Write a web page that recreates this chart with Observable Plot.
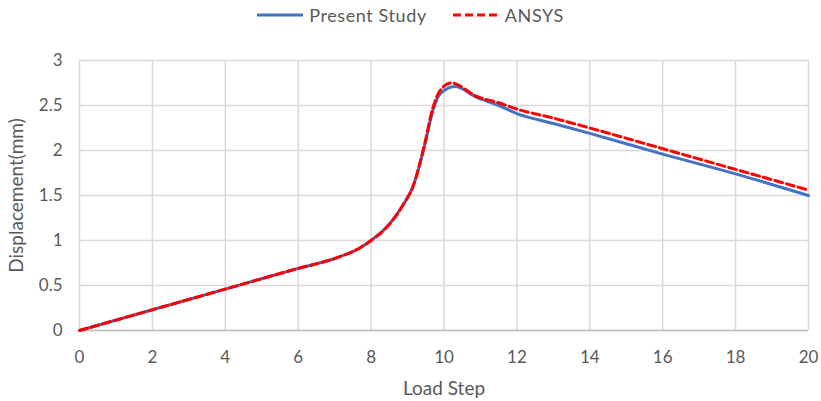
<!DOCTYPE html>
<html>
<head>
<meta charset="utf-8">
<script src="https://cdn.jsdelivr.net/npm/d3@7"></script>
<script src="https://cdn.jsdelivr.net/npm/@observablehq/plot@0.6"></script>
<style>
  body { margin: 0; background: #fff; font-family: Lato, "Open Sans", sans-serif; }
  #legend { height: 30px; display: flex; align-items: center; justify-content: center; color: #595959; font-size: 18px; letter-spacing: 0.6px; }
  .item { display: flex; align-items: center; margin: 0 13px; }
  .item svg { margin-right: 6px; }
</style>
</head>
<body>
<div id="legend"></div>
<div id="chart"></div>
<script>
const seriesNames = ["Present Study", "ANSYS"];
const seriesColors = ["#4472C4", "#FF0000"];

const presentX = [0, 2, 4, 6, 7, 7.7, 8, 8.5, 8.9, 9.15, 9.45, 9.7, 9.9, 10.3, 10.9, 11.5, 12, 13, 14, 16, 18, 20];
const presentY = [0, 0.23, 0.46, 0.69, 0.8, 0.92, 1.0, 1.18, 1.41, 1.6, 2.02, 2.45, 2.63, 2.71, 2.59, 2.5, 2.41, 2.3, 2.19, 1.96, 1.74, 1.5];

const ansysX = [0, 2, 4, 6, 7, 7.7, 8, 8.5, 8.9, 9.15, 9.45, 9.7, 9.9, 10.2, 10.9, 11.5, 12, 13, 14, 16, 18, 20];
const ansysY = [0, 0.23, 0.46, 0.69, 0.8, 0.92, 1.0, 1.18, 1.41, 1.6, 2.04, 2.48, 2.67, 2.75, 2.6, 2.53, 2.46, 2.36, 2.25, 2.02, 1.79, 1.56];

const xTicks = [0, 2, 4, 6, 8, 10, 12, 14, 16, 18, 20];
const yTicks = [0, 0.5, 1, 1.5, 2, 2.5, 3];

const present = presentX.map((x, i) => ({x, y: presentY[i]}));
const ansys = ansysX.map((x, i) => ({x, y: ansysY[i]}));

// legend
const legend = document.getElementById("legend");
seriesNames.forEach((name, i) => {
  const item = document.createElement("div");
  item.className = "item";
  const dash = i === 1 ? ' stroke-dasharray="8,4"' : '';
  item.innerHTML = `<svg width="46" height="10"><line x1="0" y1="5" x2="46" y2="5" stroke="${seriesColors[i]}" stroke-width="3"${dash}/></svg><span>${name}</span>`;
  legend.appendChild(item);
});

const chart = Plot.plot({
  width: 821,
  height: 371,
  marginTop: 30,
  marginBottom: 71,
  marginLeft: 79,
  marginRight: 13,
  style: { fontFamily: "Lato, 'Open Sans', sans-serif", fontSize: "17px", color: "#595959", background: "#fff" },
  x: { domain: [0, 20] },
  y: { domain: [0, 3] },
  marks: [
    Plot.gridX(xTicks, { stroke: "#d9d9d9", strokeOpacity: 1, strokeWidth: 1.5 }),
    Plot.gridY(yTicks, { stroke: "#d9d9d9", strokeOpacity: 1, strokeWidth: 1.5 }),
    Plot.ruleY([0], { stroke: "#bfbfbf", strokeWidth: 1.5 }),
    Plot.axisX({ ticks: xTicks, tickSize: 0, tickPadding: 20, tickFormat: d => String(d), label: null }),
    Plot.axisX({ ticks: [], label: "Load Step", labelAnchor: "center", labelArrow: "none", labelOffset: 64,
      fontSize: 19, letterSpacing: 0.5 }),
    Plot.axisY({ ticks: yTicks, tickSize: 0, tickPadding: 17, tickFormat: d => String(d), label: null }),
    Plot.axisY({ ticks: [], label: "Displacement(mm)", labelAnchor: "center", labelArrow: "none", labelOffset: 70,
      fontSize: 19, letterSpacing: 0.5 }),
    Plot.line(present, { x: "x", y: "y", stroke: seriesColors[0], strokeWidth: 3, curve: "monotone-x" }),
    Plot.line(ansys, { x: "x", y: "y", stroke: seriesColors[1], strokeWidth: 3, strokeDasharray: "8,4", curve: "monotone-x" })
  ]
});
document.getElementById("chart").appendChild(chart);
</script>
</body>
</html>
